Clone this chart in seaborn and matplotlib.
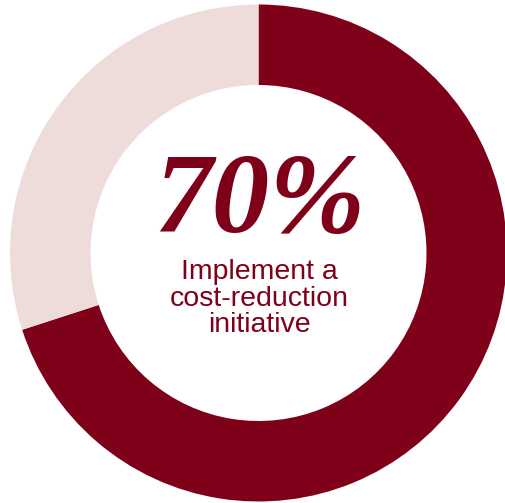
import matplotlib
matplotlib.use("Agg")
import matplotlib.pyplot as plt
import seaborn as sns

# data
segments = ["Yes", "Other"]
shares = [70, 30]
colors = ["#7f0019", "#eddcda"]
headline = "70%"
caption_lines = ["Implement a", "cost-reduction", "initiative"]

sns.set_theme(style="white")

W, H = 505, 503
cx, cy = 258.5, 253  # donut centre in pixels (from top-left)

fig = plt.figure(figsize=(W / 100, H / 100), dpi=100)
ax = fig.add_axes([0, 0, 1, 1])

ax.pie(shares, colors=colors, startangle=90, counterclock=False,
       radius=248.5, wedgeprops=dict(width=80.5, linewidth=0),
       center=(0, 0))

ax.set_xlim(-cx, W - cx)
ax.set_ylim(-(H - cy), cy)
ax.set_aspect("equal")
ax.axis("off")


def px(x, y):
    # pixel position -> data coordinates
    return x - cx, cy - y


ax.text(*px(260, 232), headline, ha="center", va="baseline",
        fontsize=83, fontweight="bold", fontstyle="italic",
        family="Liberation Serif", color=colors[0])

for i, line in enumerate(caption_lines):
    ax.text(*px(259, 279 + i * 26.5), line, ha="center", va="baseline",
            fontsize=20.5, family="Liberation Sans", color=colors[0])

fig.savefig("out.png", dpi=100)
